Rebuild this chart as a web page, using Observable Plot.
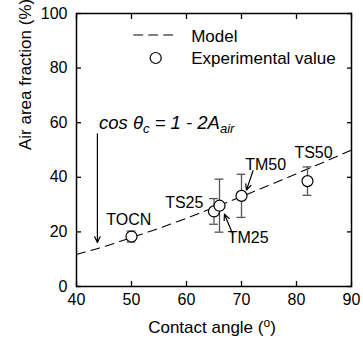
<!DOCTYPE html>
<html><head><meta charset="utf-8">
<script src="https://cdn.jsdelivr.net/npm/d3@7"></script>
<script src="https://cdn.jsdelivr.net/npm/@observablehq/plot@0.6"></script>
<style>body{margin:0;background:#fff} svg{font-family: Arial, "Liberation Sans", sans-serif}</style>
</head><body><div id="chart"></div>
<script>
// Model curve (cos θc = 1 - 2A_air)
const modelAngles = [40, 45, 50, 55, 60, 65, 70, 75, 80, 85, 90];
const modelFractions = [11.7, 14.6, 17.9, 21.3, 25.0, 28.9, 32.9, 37.1, 41.3, 45.6, 50.0];
// Experimental values
const sampleNames = ["TOCN", "TS25", "TM25", "TM50", "TS50"];
const sampleAngles = [50, 65, 66, 70, 82];
const sampleFractions = [18.3, 27.5, 29.6, 33.2, 38.6];
const sampleErrors = [2.0, 4.7, 9.7, 7.9, 5.2];
// Axis ticks
const xTicks = [40, 50, 60, 70, 80, 90];
const yTicks = [0, 20, 40, 60, 80, 100];
const legendLabels = ["Model", "Experimental value"];

// annotation placement (data units)
const labelPos = {TOCN: [49.5, 24.4], TS25: [59.6, 30.8], TM25: [71.2, 17.9], TM50: [74.4, 44.5], TS50: [83.1, 48.8]};
const arrows = [
  {x1: 72.1, y1: 42.4, x2: 70.9, y2: 35.3},
  {x1: 68.4, y1: 19.2, x2: 66.9, y2: 26.5},
  {x1: 43.8, y1: 55.9, x2: 43.8, y2: 16.1}
];
const formulaPlain = "cos θc = 1 - 2Aair";

const model = modelAngles.map((a, i) => ({x: a, y: modelFractions[i]}));
const samples = sampleNames.map((n, i) => ({
  name: n, x: sampleAngles[i], y: sampleFractions[i], e: sampleErrors[i],
  lx: labelPos[n][0], ly: labelPos[n][1]
}));

const FONT = "Arial, 'Liberation Sans', sans-serif";
const chart = Plot.plot({
  width: 363, height: 343,
  marginLeft: 76, marginRight: 12, marginTop: 13, marginBottom: 57,
  x: {domain: [40, 90]},
  y: {domain: [0, 100]},
  style: {fontFamily: FONT, fontSize: "16px", color: "black", background: "white"},
  marks: [
    Plot.line(model, {x: "x", y: "y", stroke: "black", strokeWidth: 1.1, strokeDasharray: "9,6"}),
    Plot.ruleX(samples, {x: "x", y1: d => d.y - d.e, y2: d => d.y + d.e, stroke: "#555", strokeWidth: 1.3}),
    Plot.ruleY(samples, {y: d => d.y + d.e, x1: d => d.x - 0.8, x2: d => d.x + 0.8, stroke: "#555", strokeWidth: 1.3}),
    Plot.ruleY(samples, {y: d => d.y - d.e, x1: d => d.x - 0.8, x2: d => d.x + 0.8, stroke: "#555", strokeWidth: 1.3}),
    Plot.dot(samples, {x: "x", y: "y", r: 5.5, fill: "white", stroke: "black", strokeWidth: 1.2}),
    Plot.text(samples, {x: "lx", y: "ly", text: "name", fontSize: 16, fill: "black"}),
    Plot.arrow(arrows, {x1: "x1", y1: "y1", x2: "x2", y2: "y2", stroke: "black", strokeWidth: 1.2, headLength: 8, headAngle: 50}),
    // legend
    Plot.line([{x: 50.4, y: 92.1}, {x: 58, y: 92.1}], {x: "x", y: "y", stroke: "black", strokeWidth: 1.1, strokeDasharray: "9,6"}),
    Plot.dot([{x: 54.4, y: 83.7}], {x: "x", y: "y", r: 5.5, fill: "white", stroke: "black", strokeWidth: 1.2}),
    Plot.text(legendLabels, {x: 60.85, y: (d, i) => [91.6, 83.6][i], text: d => d, textAnchor: "start", fontSize: 17, fill: "black"}),
    // formula
    Plot.text([formulaPlain], {x: 44.1, y: 60, text: d => d, textAnchor: "start", fontSize: 18.5, fontStyle: "italic", fill: "black"}),
    // frame and axes
    Plot.frame({stroke: "black", strokeWidth: 1.5}),
    Plot.axisX({ticks: xTicks, tickSize: -5, tickFormat: () => "", label: null, strokeWidth: 1.3}),
    Plot.axisX({anchor: "top", ticks: xTicks, tickSize: -5, tickFormat: () => "", label: null, strokeWidth: 1.3}),
    Plot.axisY({ticks: yTicks, tickSize: -5, tickFormat: () => "", label: null, strokeWidth: 1.3}),
    Plot.axisY({anchor: "right", ticks: yTicks, tickSize: -5, tickFormat: () => "", label: null, strokeWidth: 1.3}),
    Plot.axisX({ticks: xTicks, tickSize: 0, tickPadding: 7, label: null, fontSize: 16}),
    Plot.axisY({ticks: yTicks, tickSize: 0, tickPadding: 9, label: null, fontSize: 16}),
    Plot.text(["Contact angle (o)"], {frameAnchor: "bottom", dy: 46, dx: -2, text: d => d, fontSize: 17, fill: "black"}),
    Plot.text(["Air area fraction (%)"], {frameAnchor: "left", dx: -51, rotate: -90, text: d => d, fontSize: 17, fill: "black"})
  ]
});

// rich-text post-processing (sub/superscripts)
d3.select(chart).selectAll("text").each(function() {
  const el = d3.select(this);
  if (this.textContent === formulaPlain) {
    el.text("");
    el.append("tspan").text("cos θ");
    el.append("tspan").attr("dy", 4.5).attr("font-size", 13).text("c");
    el.append("tspan").attr("dy", -4.5).text(" = 1 - 2A");
    el.append("tspan").attr("dy", 4.5).attr("font-size", 13).text("air");
  } else if (this.textContent === "Contact angle (o)") {
    el.text("");
    el.append("tspan").text("Contact angle (");
    el.append("tspan").attr("dy", -6).attr("font-size", 12).text("o");
    el.append("tspan").attr("dy", 6).text(")");
  }
});
document.getElementById("chart").append(chart);
</script></body></html>
